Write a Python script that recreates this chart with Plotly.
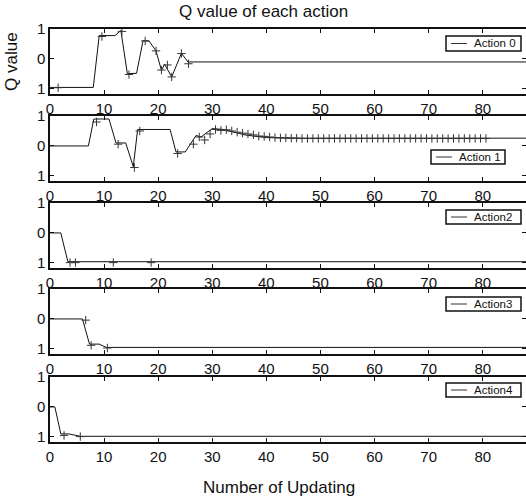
import plotly.graph_objects as go

# ---------------- data ----------------
action_names = ["Action 0", "Action 1", "Action2", "Action3", "Action4"]

x_tick_vals = [0, 10, 20, 30, 40, 50, 60, 70, 80]
x_tick_text = ["0", "10", "20", "30", "40", "50", "60", "70", "80"]
y_tick_vals = [1, 0, -1]
y_tick_text = ["1", "0", "1"]

# Action 0
a0_line_x = [0, 8.0, 9.1, 12.0, 13.1, 14.3, 16.0, 17.2, 18.3, 19.6, 20.6, 21.2, 22.5, 24.3, 25.5, 88]
a0_line_y = [-0.95, -0.95, 0.78, 0.78, 0.95, -0.49, -0.48, 0.61, 0.60, 0.27, -0.38, -0.18, -0.60, 0.19, -0.10, -0.10]
a0_mark_x = [1.5, 9.6, 13.3, 14.6, 17.6, 19.6, 20.6, 21.7, 22.5, 24.3, 25.6]
a0_mark_y = [-0.96, 0.75, 0.92, -0.52, 0.60, 0.27, -0.37, -0.20, -0.60, 0.18, -0.16]

# Action 1
a1_line_x = [0, 7.1, 8.1, 10.9, 12.2, 14.0, 15.4, 16.2, 22.2, 23.3, 25.0, 27.0, 27.9, 30.0, 32.0, 34.0, 36.0, 38.0, 40.0, 45.0, 88]
a1_line_y = [0, 0, 0.90, 0.90, 0.10, 0.10, -0.69, 0.55, 0.55, -0.20, -0.20, 0.35, 0.30, 0.58, 0.55, 0.45, 0.37, 0.32, 0.28, 0.26, 0.26]
a1_mark_x = [8.6, 12.6, 15.6, 16.6, 23.6, 26.5, 27.6, 28.6, 29.6, 30.6, 31.6, 32.6, 33.6, 34.6, 35.6,
             36.6, 37.6, 38.6, 39.6, 40.6, 41.6, 42.6, 43.6, 44.6, 45.6, 46.6, 47.6, 48.6, 49.6, 50.6,
             51.6, 52.6, 53.6, 54.6, 55.6, 56.6, 57.6, 58.6, 59.6, 60.6, 61.6, 62.6, 63.6, 64.6, 65.6,
             66.6, 67.6, 68.6, 69.6, 70.6, 71.6, 72.6, 73.6, 74.6, 75.6, 76.6, 77.6, 78.6, 79.6, 80.6]
a1_mark_y = [0.80, 0.06, -0.72, 0.50, -0.25, 0.06, 0.30, 0.20, 0.40, 0.55, 0.52, 0.54, 0.50, 0.46, 0.43,
             0.40, 0.37, 0.33, 0.32, 0.30, 0.28, 0.27, 0.27, 0.26, 0.26, 0.25, 0.25, 0.25, 0.25, 0.25,
             0.25, 0.25, 0.25, 0.25, 0.25, 0.25, 0.25, 0.25, 0.25, 0.25, 0.25, 0.25, 0.25, 0.25, 0.25,
             0.25, 0.25, 0.25, 0.25, 0.25, 0.25, 0.25, 0.25, 0.25, 0.25, 0.25, 0.25, 0.25, 0.25, 0.25]

# Action 2
a2_line_x = [0, 2.0, 3.3, 88]
a2_line_y = [0, 0, -0.96, -0.96]
a2_mark_x = [3.7, 4.7, 11.7, 18.7]
a2_mark_y = [-0.99, -0.99, -0.99, -0.99]

# Action 3
a3_line_x = [0, 6.0, 7.3, 9.1, 10.4, 88]
a3_line_y = [0, 0, -0.84, -0.84, -0.95, -0.95]
a3_mark_x = [6.6, 7.6, 10.6]
a3_mark_y = [-0.04, -0.88, -0.97]

# Action 4
a4_line_x = [0, 0.9, 2.0, 3.5, 5.6, 88]
a4_line_y = [0, 0, -0.90, -0.90, -0.98, -0.98]
a4_mark_x = [2.6, 5.6]
a4_mark_y = [-0.95, -0.99]

lines = [(a0_line_x, a0_line_y), (a1_line_x, a1_line_y), (a2_line_x, a2_line_y),
         (a3_line_x, a3_line_y), (a4_line_x, a4_line_y)]
marks = [(a0_mark_x, a0_mark_y), (a1_mark_x, a1_mark_y), (a2_mark_x, a2_mark_y),
         (a3_mark_x, a3_mark_y), (a4_mark_x, a4_mark_y)]

# ---------------- layout helpers ----------------
W, H = 526, 501
L, R, T, B = 50, 0, 0, 0
PW, PH = W - L - R, H - T - B


def px(x):
    return (x - L) / PW


def py(y):
    return 1 - (y - T) / PH


panel_px = [(29, 94), (116, 181), (203, 268), (289, 354), (377, 442)]
legend_px = [(446, 521, 36, 51), (431, 505, 150, 164), (446, 521, 210, 224),
             (446, 521, 297, 311), (446, 521, 383, 397)]

FONT = "Liberation Sans, Arial, Helvetica, sans-serif"
INK = "#111111"

fig = go.Figure()
layout = dict(
    width=W, height=H,
    margin=dict(l=L, r=R, t=T, b=B, autoexpand=False),
    paper_bgcolor="white", plot_bgcolor="white",
    showlegend=False,
    font=dict(family=FONT, color=INK, size=15),
)
shapes = []
annotations = []

for i in range(5):
    k = "" if i == 0 else str(i + 1)
    top, bot = panel_px[i]
    layout["xaxis" + k] = dict(
        domain=[0, 1], range=[0, 88], anchor="y" + k,
        tickvals=x_tick_vals, ticktext=x_tick_text,
        ticks="inside", ticklen=4, tickwidth=1, tickcolor=INK,
        showline=True, linecolor=INK, linewidth=1.5, mirror="ticks",
        showgrid=False, zeroline=False, automargin=False,
        tickfont=dict(size=15, family=FONT, color=INK),
    )
    layout["yaxis" + k] = dict(
        domain=[py(bot), py(top)], range=[-1.17, 1.0], anchor="x" + k,
        tickvals=y_tick_vals, ticktext=y_tick_text,
        ticks="inside", ticklen=4, tickwidth=1, tickcolor=INK,
        showline=True, linecolor=INK, linewidth=1.5, mirror="ticks",
        showgrid=False, zeroline=False, automargin=False,
        tickfont=dict(size=15, family=FONT, color=INK),
    )
    lx, ly = lines[i]
    mx, my = marks[i]
    fig.add_trace(go.Scatter(x=lx, y=ly, mode="lines", name=action_names[i],
                             line=dict(color=INK, width=1),
                             xaxis="x" + k, yaxis="y" + k))
    fig.add_trace(go.Scatter(x=mx, y=my, mode="markers", name=action_names[i],
                             marker=dict(symbol="cross-thin", size=6,
                                         line=dict(color="#333333", width=1)),
                             xaxis="x" + k, yaxis="y" + k))
    # legend box
    x0, x1, y0, y1 = legend_px[i]
    shapes.append(dict(type="rect", xref="paper", yref="paper",
                       x0=px(x0), x1=px(x1), y0=py(y1), y1=py(y0),
                       line=dict(color=INK, width=1.5), fillcolor="white"))
    ym = (y0 + y1) / 2
    shapes.append(dict(type="line", xref="paper", yref="paper",
                       x0=px(x0 + 5), x1=px(x0 + 21), y0=py(ym), y1=py(ym),
                       line=dict(color="#333333", width=1)))
    annotations.append(dict(text=action_names[i], xref="paper", yref="paper",
                            x=px(x0 + 26), y=py(ym), xanchor="left", yanchor="middle",
                            showarrow=False, font=dict(size=11.5, family=FONT, color=INK)))

annotations.append(dict(text="Q value of each action", xref="paper", yref="paper",
                        x=px(263), y=py(11), xanchor="center", yanchor="middle",
                        showarrow=False, font=dict(size=17, family=FONT, color=INK)))
annotations.append(dict(text="Q value", xref="paper", yref="paper", textangle=-90,
                        x=px(12), y=py(62), xanchor="center", yanchor="middle",
                        showarrow=False, font=dict(size=17, family=FONT, color=INK)))
annotations.append(dict(text="Number of Updating", xref="paper", yref="paper",
                        x=px(279), y=py(487), xanchor="center", yanchor="middle",
                        showarrow=False, font=dict(size=17, family=FONT, color=INK)))

layout["shapes"] = shapes
layout["annotations"] = annotations
fig.update_layout(**layout)
fig.write_html("out.html")
